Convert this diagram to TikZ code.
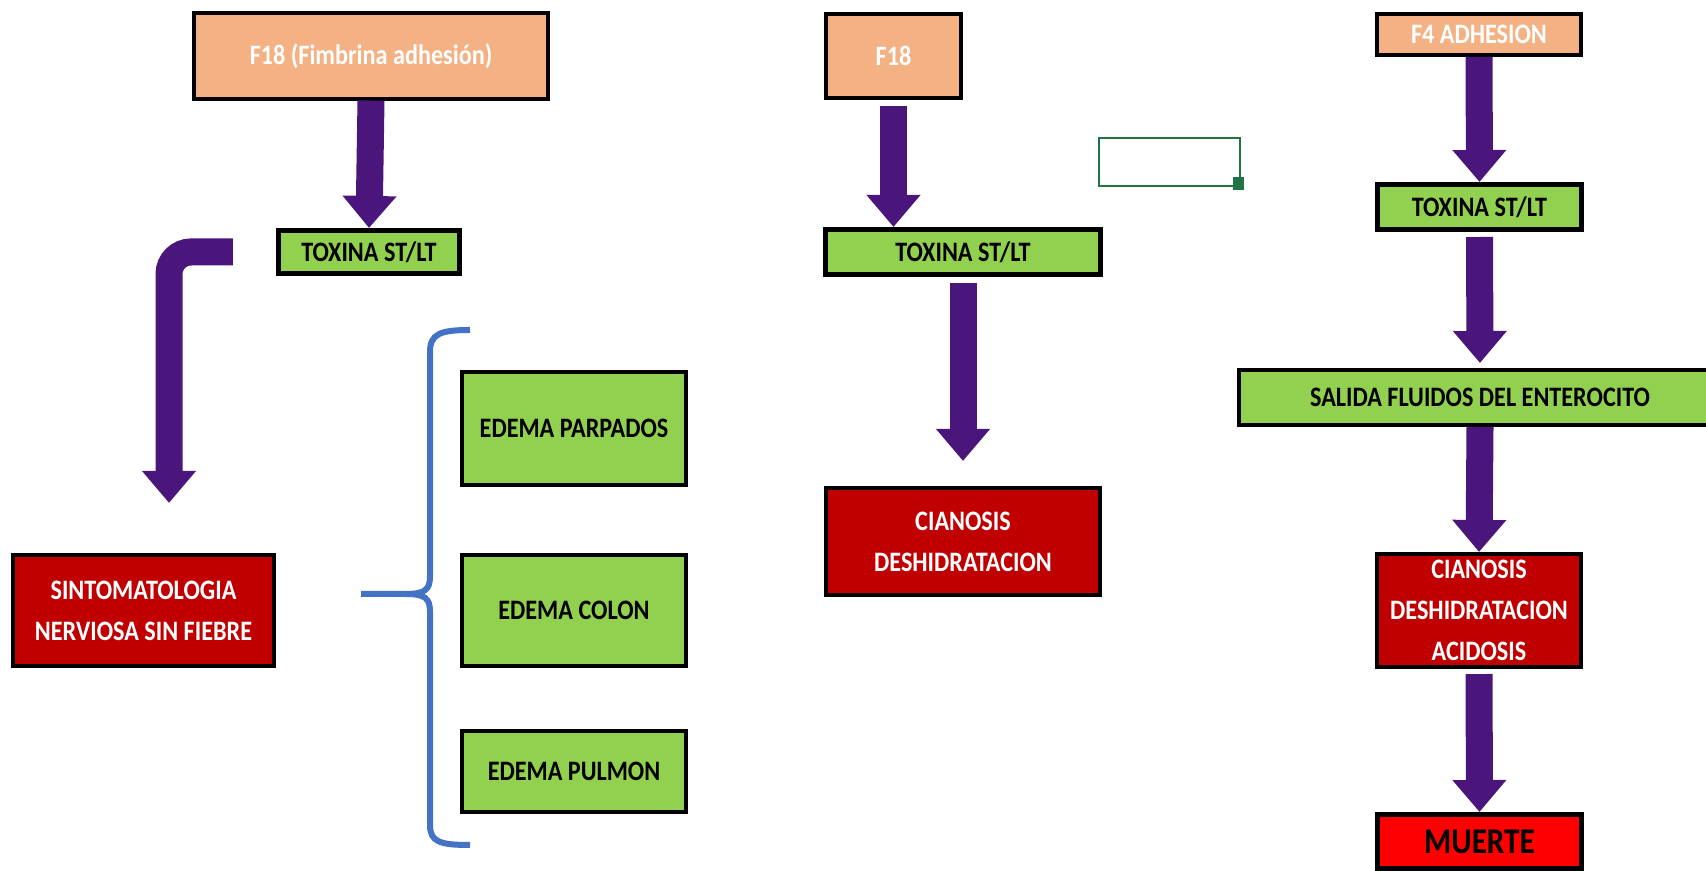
\documentclass[tikz,border=0pt]{standalone}
\usepackage{fontspec}
\setmainfont[FakeStretch=0.86]{Carlito}
\usetikzlibrary{arrows.meta}

\definecolor{peach}{HTML}{F4B183}
\definecolor{leaf}{HTML}{92D050}
\definecolor{blood}{HTML}{C00000}
\definecolor{alarm}{HTML}{FF0000}
\definecolor{arrowpurple}{RGB}{74,22,124}
\definecolor{bracket}{HTML}{4472C4}
\definecolor{cellgreen}{HTML}{217346}

\begin{document}
\begin{tikzpicture}[x=0.01cm, y=-0.01cm,
        box/.style={draw=black, line width=0.04cm, inner sep=0pt, align=center,
            font=\fontsize{8}{11.7}\selectfont\bfseries},
        adhesion/.style={box, fill=peach, text=white},
        green box/.style={box, fill=leaf},
        sign/.style={box, fill=blood, text=white},
        fatarrow/.style={draw=arrowpurple, line width=0.27cm,
            -{Triangle[width=0.52cm, length=0.32cm]}}]
            \path[use as bounding box, fill=white] (0,0) rectangle (1706,871);

            \node[adhesion, minimum width=3.53cm, minimum height=0.85cm] (f18a) at (371,56) {F18 (Fimbrina adhesión)};
            \node[green box, line width=0.05cm, minimum width=1.81cm, minimum height=0.43cm] (tox1) at (369,252) {TOXINA ST/LT};
            \node[sign, minimum width=2.61cm, minimum height=1.11cm] (sinto) at (143.5,610.5) {SINTOMATOLOGIA\\NERVIOSA SIN FIEBRE};
            \node[green box, minimum width=2.24cm, minimum height=1.13cm] (parp) at (574,428.5) {EDEMA PARPADOS};
            \node[green box, minimum width=2.24cm, minimum height=1.11cm] (colon) at (574,610.5) {EDEMA COLON};
            \node[green box, minimum width=2.24cm, minimum height=0.81cm] (pulm) at (574,771.5) {EDEMA PULMON};

            \node[adhesion, minimum width=1.35cm, minimum height=0.84cm] (f18b) at (893.5,56) {F18};
            \node[green box, line width=0.05cm, minimum width=2.75cm, minimum height=0.45cm] (tox2) at (963,252) {TOXINA ST/LT};
            \node[sign, minimum width=2.74cm, minimum height=1.07cm] (cian2) at (963,541.5) {CIANOSIS\\DESHIDRATACION};

            \node[adhesion, minimum width=2.04cm, minimum height=0.41cm] (f4) at (1479,34.5) {F4 ADHESION};
            \node[green box, line width=0.05cm, minimum width=2.04cm, minimum height=0.45cm] (tox3) at (1479.5,207) {TOXINA ST/LT};
            \node[green box, minimum width=4.82cm, minimum height=0.55cm] (salida) at (1480,397.5) {SALIDA FLUIDOS DEL ENTEROCITO};
            \node[sign, minimum width=2.04cm, minimum height=1.13cm] (cian3) at (1479,610.5) {CIANOSIS\\DESHIDRATACION\\ACIDOSIS};
            \node[box, fill=alarm, line width=0.05cm, minimum width=2.04cm, minimum height=0.54cm,
                font=\fontsize{10.3}{12}\selectfont\bfseries] (muerte) at (1479.5,841.5) {MUERTE};

            \draw[fatarrow] (f18a.south) -- (tox1.north);
            \draw[fatarrow, rounded corners=0.22cm] ([xshift=-0.43cm]tox1.west) -| ([xshift=0.255cm, yshift=0.5cm]sinto.north);
            \draw[fatarrow, shorten <=0.06cm] (f18b.south) -- (f18b.south |- tox2.north);
            \draw[fatarrow, shorten <=0.06cm, shorten >=0.25cm] (tox2.south) -- (cian2.north);
            \draw[fatarrow] (f4.south) -- (tox3.north);
            \draw[fatarrow, shorten <=0.05cm, shorten >=0.05cm] (tox3.south) -- (salida.north);
            \draw[fatarrow] (salida.south) -- (cian3.north);
            \draw[fatarrow, shorten <=0.05cm] (cian3.south) -- (muerte.north);

            \draw[bracket, line width=0.06cm] (470,330) .. controls (440,330) and (430,334) .. (430,352) -- (430,576)
                .. controls (430,590) and (425,594) .. (405,594) -- (361,594);
            \draw[bracket, line width=0.06cm] (405,594) .. controls (425,594) and (430,598) .. (430,612) -- (430,825)
                .. controls (430,842) and (440,845) .. (470,845);

            \draw[cellgreen, line width=0.025cm] (1099,138) rectangle (1240,186);
            \fill[cellgreen] (1233,177) rectangle (1244,190);
        \end{tikzpicture}
\end{document}
